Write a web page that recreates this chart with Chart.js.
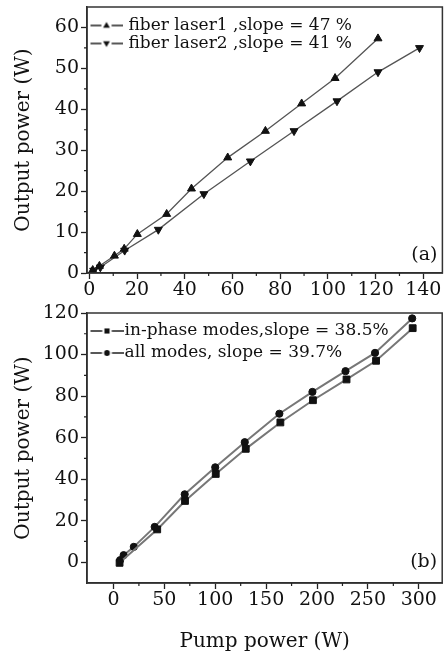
<!DOCTYPE html>
<html>
<head>
<meta charset="utf-8">
<script src="https://cdn.jsdelivr.net/npm/chart.js@4.4.0/dist/chart.umd.min.js"></script>
<style>
  body { margin: 0; background: #fff; }
  canvas { display: block; }
</style>
</head>
<body>
<canvas id="chart-a" width="448" height="300"></canvas>
<canvas id="chart-b" width="448" height="352"></canvas>
<script>
// (a) 两台光纤激光器
const laser1X = [1.4, 4.2, 10.5, 14.6, 20.1, 32.4, 42.8, 58, 73.8, 89, 103, 121];
const laser1Y = [0.7, 1.7, 4.2, 5.9, 9.5, 14.4, 20.6, 28.2, 34.7, 41.4, 47.6, 57.3];
const laser2X = [1.8, 4.6, 14.8, 28.9, 48, 67.5, 85.8, 103.8, 121, 138.4];
const laser2Y = [0.6, 1.4, 5.5, 10.6, 19.3, 27.3, 34.7, 42, 49.1, 55];
const legendA = ['fiber laser1 ,slope = 47 %', 'fiber laser2 ,slope = 41 %'];

// (b) 同相模式 / 全部模式
const inPhaseX = [6, 43, 70.3, 100.5, 130, 164, 196, 229, 258, 294];
const inPhaseY = [-0.3, 15.8, 29.5, 42.5, 54.6, 67.3, 78, 88, 97, 112.7];
const allModesX = [6.5, 10, 20, 40.5, 70, 100, 129, 163, 195.5, 228, 257, 293.5];
const allModesY = [1, 3.4, 7.4, 17, 32.7, 45.7, 57.8, 71.5, 82, 92, 100.8, 117.4];
const legendB = ['in-phase modes,slope = 38.5%', 'all modes, slope = 39.7%'];

// 刻度
const aXTicks = [0, 20, 40, 60, 80, 100, 120, 140];
const aXMinor = [10, 30, 50, 70, 90, 110, 130];
const aYTicks = [0, 10, 20, 30, 40, 50, 60];
const aYMinor = [5, 15, 25, 35, 45, 55];
const bXTicks = [0, 50, 100, 150, 200, 250, 300];
const bXMinor = [25, 75, 125, 175, 225, 275];
const bYTicks = [0, 20, 40, 60, 80, 100, 120];
const bYMinor = [10, 30, 50, 70, 90, 110];

const SERIF = '"DejaVu Serif", "Liberation Serif", serif';
const INK = '#111';

function toPoints(xs, ys) {
    return xs.map((x, i) => ({ x, y: ys[i] }));
}

// 图例符号：—▲— 这种样式，画到一个小画布上
function drawMarker(ctx, style, x, y, r) {
    ctx.beginPath();
    if (style === 'up' || style === 'down') {
        const s = style === 'up' ? 1 : -1;
        ctx.moveTo(x, y - s * r);
        ctx.lineTo(x + r * 0.95, y + s * r * 0.6);
        ctx.lineTo(x - r * 0.95, y + s * r * 0.6);
        ctx.closePath();
    } else if (style === 'square') {
        ctx.rect(x - r * 0.8, y - r * 0.8, r * 1.6, r * 1.6);
    } else {
        ctx.arc(x, y, r * 0.85, 0, Math.PI * 2);
    }
    ctx.fill();
}

function makeSymbol(style, width, start, r) {
    const c = document.createElement('canvas');
    c.width = width;
    c.height = 14;
    const ctx = c.getContext('2d');
    const mid = start + (width - start) / 2;
    ctx.strokeStyle = '#222';
    ctx.fillStyle = INK;
    ctx.lineWidth = 1.3;
    ctx.beginPath();
    ctx.moveTo(start, 7);
    ctx.lineTo(mid - r - 1.5, 7);
    ctx.moveTo(mid + r + 1.5, 7);
    ctx.lineTo(width, 7);
    ctx.stroke();
    drawMarker(ctx, style, mid, 7, r);
    return c;
}

// 边框、次刻度和 (a)/(b) 标记
const framePlugin = {
    id: 'frame',
    afterDraw(chart, args, opts) {
        const { ctx, chartArea: a, scales } = chart;
        ctx.save();
        ctx.strokeStyle = '#333';
        ctx.lineWidth = 1.5;
        ctx.strokeRect(a.left, a.top, a.right - a.left, a.bottom - a.top);

        ctx.strokeStyle = '#222';
        ctx.lineWidth = 1.2;
        ctx.beginPath();
        opts.xMinor.forEach(v => {
            const x = scales.x.getPixelForValue(v);
            ctx.moveTo(x, a.bottom);
            ctx.lineTo(x, a.bottom + 3);
        });
        opts.yMinor.forEach(v => {
            const y = scales.y.getPixelForValue(v);
            ctx.moveTo(a.left, y);
            ctx.lineTo(a.left - 3, y);
        });
        ctx.stroke();

        ctx.font = '19px ' + SERIF;
        ctx.fillStyle = INK;
        ctx.textAlign = 'right';
        ctx.textBaseline = 'middle';
        ctx.fillText(opts.label, a.right - 5, a.bottom - opts.labelLift);
        ctx.restore();
    }
};

// 图例放在绘图区内；标题留空只用来把图例往下推
function legendOptions(symbols, fontSize, padding, boxWidth, titleGap) {
    return {
        position: 'chartArea',
        align: 'start',
        title: { display: true, text: ' ', font: { size: 10 }, padding: { top: titleGap - 12, bottom: 0 } },
        labels: {
            usePointStyle: true,
            pointStyleWidth: boxWidth,
            padding: padding,
            color: INK,
            font: { family: SERIF, size: fontSize },
            generateLabels(chart) {
                const items = Chart.defaults.plugins.legend.labels.generateLabels(chart);
                items.forEach((it, i) => {
                    it.pointStyle = symbols[i];
                    it.rotation = 0;
                });
                return items;
            }
        }
    };
}

function xAxis(min, max, tickValues, height, title) {
    return {
        type: 'linear',
        min: min,
        max: max,
        afterBuildTicks: s => { s.ticks = tickValues.map(v => ({ value: v })); },
        afterFit: s => {
            s.height = height;
            s.paddingLeft = 0;
            s.paddingRight = 0;
        },
        ticks: { color: INK, font: { family: SERIF, size: 19 }, padding: 0, autoSkip: false, maxRotation: 0 },
        grid: { drawOnChartArea: false, tickLength: 6, tickColor: '#222', tickWidth: 1.3 },
        border: { color: '#222', width: 1.5 },
        title: title
            ? { display: true, text: title, color: INK, font: { family: SERIF, size: 20 }, padding: { top: 0, bottom: -2 } }
            : { display: false }
    };
}

function yAxis(min, max, tickValues) {
    return {
        type: 'linear',
        min: min,
        max: max,
        afterBuildTicks: s => { s.ticks = tickValues.map(v => ({ value: v })); },
        afterFit: s => {
            s.width = 87;
            s.paddingTop = 0;
            s.paddingBottom = 0;
        },
        ticks: { color: INK, font: { family: SERIF, size: 19 }, padding: 2 },
        grid: { drawOnChartArea: false, tickLength: 6, tickColor: '#222', tickWidth: 1.3 },
        border: { color: '#222', width: 1.5 },
        title: { display: true, text: 'Output power (W)', color: INK, font: { family: SERIF, size: 20 }, padding: { top: 12, bottom: 0 } }
    };
}

const symbolsA = [makeSymbol('up', 37, 5, 3.6), makeSymbol('down', 37, 5, 3.6)];
const symbolsB = [makeSymbol('square', 39, 6, 3.2), makeSymbol('circle', 39, 6, 3.4)];

new Chart(document.getElementById('chart-a'), {
    type: 'scatter',
    data: {
        datasets: [
            {
                label: legendA[0],
                data: toPoints(laser1X, laser1Y),
                showLine: true,
                borderColor: '#555',
                borderWidth: 1.3,
                pointStyle: 'triangle',
                pointRadius: 4.6,
                pointBackgroundColor: INK,
                pointBorderColor: INK,
                pointBorderWidth: 1
            },
            {
                label: legendA[1],
                data: toPoints(laser2X, laser2Y),
                showLine: true,
                borderColor: '#555',
                borderWidth: 1.3,
                pointStyle: 'triangle',
                pointRotation: 180,
                pointRadius: 4.6,
                pointBackgroundColor: INK,
                pointBorderColor: INK,
                pointBorderWidth: 1
            }
        ]
    },
    options: {
        responsive: false,
        animation: false,
        layout: { padding: { top: 7, right: 2, left: 0, bottom: 0 } },
        plugins: {
            legend: legendOptions(symbolsA, 17, 1, 32, 16),
            tooltip: { enabled: false },
            frame: { xMinor: aXMinor, yMinor: aYMinor, label: '(a)', labelLift: 18 }
        },
        scales: {
            x: xAxis(-1, 148, aXTicks, 27, null),
            y: yAxis(0, 65, aYTicks)
        }
    },
    plugins: [framePlugin]
});

new Chart(document.getElementById('chart-b'), {
    type: 'scatter',
    data: {
        datasets: [
            {
                label: legendB[0],
                data: toPoints(inPhaseX, inPhaseY),
                showLine: true,
                borderColor: '#777',
                borderWidth: 2,
                pointStyle: 'rect',
                pointRadius: 4.8,
                pointBackgroundColor: INK,
                pointBorderColor: INK,
                pointBorderWidth: 1
            },
            {
                label: legendB[1],
                data: toPoints(allModesX, allModesY),
                showLine: true,
                borderColor: '#777',
                borderWidth: 2,
                pointStyle: 'circle',
                pointRadius: 3.6,
                pointBackgroundColor: INK,
                pointBorderColor: INK,
                pointBorderWidth: 1
            }
        ]
    },
    options: {
        responsive: false,
        animation: false,
        layout: { padding: { top: 13, right: 2, left: 0, bottom: 0 } },
        plugins: {
            legend: legendOptions(symbolsB, 17, 5, 24, 17.5),
            tooltip: { enabled: false },
            frame: { xMinor: bXMinor, yMinor: bYMinor, label: '(b)', labelLift: 21 }
        },
        scales: {
            x: xAxis(-26, 323, bXTicks, 69, 'Pump power (W)'),
            y: yAxis(-10, 120, bYTicks)
        }
    },
    plugins: [framePlugin]
});
</script>
</body>
</html>
